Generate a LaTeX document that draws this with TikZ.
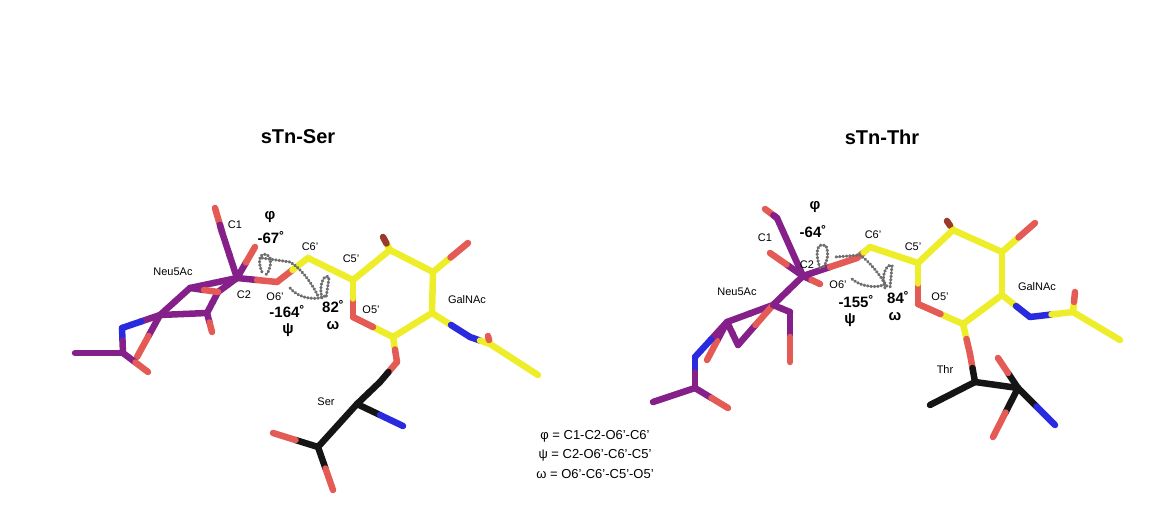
\documentclass[tikz,border=0pt]{standalone}
\usepackage{fontspec}
\setmainfont{Liberation Sans}
\usetikzlibrary{calc}
\definecolor{pur}{HTML}{85208A}
\definecolor{yel}{HTML}{EDED2A}
\definecolor{ox}{HTML}{E45A55}
\definecolor{nit}{HTML}{2A2ADF}
\definecolor{blk}{HTML}{151515}
\definecolor{gr}{HTML}{6E6E6E}
\definecolor{brn}{HTML}{9A3A2A}
\newcommand\bd[4]{\draw[stick,#3] (#1) -- ($(#1)!0.5!(#2)$); \draw[stick,#4] ($(#1)!0.5!(#2)$) -- (#2);}
\newcommand\sbd[3]{\draw[stick,#3] (#1) -- (#2);}
\begin{document}
\begin{tikzpicture}[x=1pt,y=-1pt,
 stick/.style={line width=6.5pt,line cap=round,line join=round},
 arc/.style={gr,line width=3pt,dash pattern=on 0.8pt off 2.6pt,line cap=round},
 lab/.style={font=\fontsize{11}{13}\selectfont,inner sep=0pt},
 val/.style={font=\fontsize{15}{17}\selectfont\bfseries,inner sep=0pt},
 ttl/.style={font=\fontsize{20}{23}\selectfont\bfseries,inner sep=0pt},
 eq/.style={font=\fontsize{13}{15}\selectfont,inner sep=0pt}]
\useasboundingbox (0,0) rectangle (1176,521);
% ===== Left: sTn-Ser =====
\coordinate (a5) at (353,280); \coordinate (a4) at (390,250); \coordinate (a4m) at (383,237);
\coordinate (a3) at (433,272); \coordinate (a3o) at (468,243); \coordinate (a2) at (432,313);
\coordinate (aN) at (470,337); \coordinate (aC) at (490,344); \coordinate (aCm) at (538,375); \coordinate (aCo) at (488,336);
\coordinate (a1) at (393,337); \coordinate (aO5) at (353,317); \coordinate (aO1) at (397,362);
\coordinate (sB) at (380,382); \coordinate (sA) at (357,404); \coordinate (sN) at (403,426);
\coordinate (sC) at (318,447); \coordinate (sO1) at (273,433); \coordinate (sO2) at (333,490);
\coordinate (a6) at (308,258); \coordinate (aO6) at (277,282);
\coordinate (n2) at (237,278); \coordinate (n1) at (222,232); \coordinate (n1o) at (215,208); \coordinate (n2o) at (255,247);
\coordinate (n3) at (190,288); \coordinate (n4) at (160,315); \coordinate (n5) at (207,313); \coordinate (n6) at (218,292);
\coordinate (nN) at (122,328); \coordinate (nC) at (123,353); \coordinate (nM) at (75,353); \coordinate (nO) at (148,372);
\coordinate (n4o) at (137,357); \coordinate (n5o) at (212,332);
% Neu5Ac
\sbd{n1}{n1o}{ox} \draw[stick,pur] (n1) -- ($(n1)!0.3!(n1o)$);
\bd{n2}{n1}{pur}{pur}
\bd{n2}{n2o}{pur}{ox}
\bd{n3}{n4}{pur}{pur}
\bd{n4}{n5}{pur}{pur}
\bd{n5}{n6}{pur}{pur}
\bd{n6}{n2}{pur}{pur}
\bd{n3}{n2}{pur}{pur}
\bd{n3}{n6}{pur}{ox}
\bd{n4}{n4o}{pur}{ox}
\bd{n5}{n5o}{pur}{ox}
\bd{n4}{nN}{pur}{nit}
\bd{nN}{nC}{nit}{pur}
\sbd{nC}{nM}{pur}
\bd{nC}{nO}{pur}{ox}
\bd{n2}{aO6}{pur}{ox}
% GalNAc
\bd{aO6}{a6}{ox}{yel}
\bd{a6}{a5}{yel}{yel}
\bd{a5}{a4}{yel}{yel}
\bd{a4}{a4m}{yel}{brn}
\bd{a4}{a3}{yel}{yel}
\bd{a3}{a3o}{yel}{ox}
\bd{a3}{a2}{yel}{yel}
\bd{a2}{a1}{yel}{yel}
\bd{a1}{aO5}{yel}{ox}
\bd{aO5}{a5}{ox}{yel}
\bd{a2}{aN}{yel}{nit}
\bd{aN}{aC}{nit}{yel}
\sbd{aC}{aCm}{yel}
\bd{aC}{aCo}{yel}{ox}
\bd{a1}{aO1}{yel}{ox}
% Ser
\bd{aO1}{sB}{ox}{blk}
\bd{sB}{sA}{blk}{blk}
\bd{sA}{sN}{blk}{nit}
\bd{sA}{sC}{blk}{blk}
\bd{sC}{sO1}{blk}{ox}
\bd{sC}{sO2}{blk}{ox}
% arcs
\draw[arc] (262,272) .. controls (255,255) and (265,250) .. (270,258) .. controls (272,265) and (268,275) .. (264,276);
\draw[arc] (262,258) -- (290,262) .. controls (300,268) and (310,280) .. (318,296);
\draw[arc] (290,288) .. controls (300,300) and (318,300) .. (325,296);
\draw[arc] (322,298) .. controls (318,285) and (325,272) .. (329,278) -- (326,298);
\node[lab] (aL1) at (235,225) {C1};
\node[val] (aPhi) at (270,217) {φ};
\node[val] (aV1) at (271,238) {-67˚};
\node[lab] (aL6) at (310,247) {C6’};
\node[lab] (aL5) at (351,259) {C5’};
\node[lab] (aNeu) at (173,272) {Neu5Ac};
\node[lab] (aL2) at (244,295) {C2};
\node[lab] (aLO6) at (275,297) {O6’};
\node[val] (aV2) at (287,312) {-164˚};
\node[val] (aPsi) at (288,330) {ψ};
\node[val] (aV3) at (333,307) {82˚};
\node[val] (aOm) at (333,326) {ω};
\node[lab] (aLO5) at (371,310) {O5’};
\node[lab] (aGal) at (467,300) {GalNAc};
\node[lab] (aSer) at (326,402) {Ser};
\node[ttl] (t1) at (298,137) {sTn-Ser};
% ===== Right: sTn-Thr =====
\coordinate (b5) at (918,263); \coordinate (b6) at (870,247); \coordinate (bO6) at (857,258);
\coordinate (m2) at (803,276); \coordinate (b4) at (953,230); \coordinate (b4m) at (947,221);
\coordinate (b3) at (1002,252); \coordinate (b3o) at (1035,223); \coordinate (b2) at (1002,295);
\coordinate (bN) at (1030,317); \coordinate (bC) at (1073,312); \coordinate (bCo) at (1075,292); \coordinate (bCm) at (1120,340);
\coordinate (b1) at (963,324); \coordinate (bO5) at (918,304); \coordinate (bO1) at (970,354);
\coordinate (tB) at (975,382); \coordinate (tM) at (930,405); \coordinate (tA) at (1018,388); \coordinate (tN) at (1055,425);
\coordinate (tO1) at (998,358); \coordinate (tO2) at (993,437);
\coordinate (m1) at (777,218); \coordinate (m1o) at (765,209); \coordinate (m2o) at (820,284); \coordinate (mU) at (770,253);
\coordinate (m3) at (773,305); \coordinate (m4) at (727,322); \coordinate (m5) at (738,345); \coordinate (m6) at (790,312);
\coordinate (mN) at (695,357); \coordinate (mC) at (695,388); \coordinate (mM) at (653,402); \coordinate (mO) at (728,408);
\coordinate (m4o) at (707,360); \coordinate (m6o) at (790,362);
% Neu5Ac
\sbd{m1}{m1o}{ox} \draw[stick,pur] (m1) -- ($(m1)!0.3!(m1o)$);
\bd{m2}{m1}{pur}{pur}
\bd{m2}{mU}{pur}{ox}
\bd{m2}{m2o}{pur}{ox}
\bd{m2}{m3}{pur}{pur}
\bd{m3}{m4}{pur}{pur}
\bd{m4}{m5}{pur}{pur}
\bd{m5}{m3}{pur}{ox}
\bd{m3}{m6}{pur}{pur}
\bd{m6}{m6o}{pur}{ox}
\bd{m4}{m4o}{pur}{ox}
\bd{m4}{mN}{pur}{nit}
\bd{mN}{mC}{nit}{pur}
\sbd{mC}{mM}{pur}
\bd{mC}{mO}{pur}{ox}
\bd{m2}{bO6}{pur}{ox}
% GalNAc
\bd{bO6}{b6}{ox}{yel}
\bd{b6}{b5}{yel}{yel}
\bd{b5}{b4}{yel}{yel}
\bd{b4}{b4m}{yel}{brn}
\bd{b4}{b3}{yel}{yel}
\bd{b3}{b3o}{yel}{ox}
\bd{b3}{b2}{yel}{yel}
\bd{b2}{b1}{yel}{yel}
\bd{b1}{bO5}{yel}{ox}
\bd{bO5}{b5}{ox}{yel}
\bd{b2}{bN}{yel}{nit}
\bd{bN}{bC}{nit}{yel}
\sbd{bC}{bCm}{yel}
\bd{bC}{bCo}{yel}{ox}
\bd{b1}{bO1}{yel}{ox}
% Thr
\bd{bO1}{tB}{ox}{blk}
\sbd{tB}{tM}{blk}
\bd{tB}{tA}{blk}{blk}
\bd{tA}{tN}{blk}{nit}
\bd{tA}{tO1}{blk}{ox}
\bd{tA}{tO2}{blk}{ox}
% arcs
\draw[arc] (820,268) .. controls (814,250) and (818,242) .. (826,246) .. controls (830,255) and (826,265) .. (822,268);
\draw[arc] (836,257) -- (860,255) .. controls (870,262) and (880,275) .. (888,288);
\draw[arc] (852,279) .. controls (862,288) and (880,288) .. (885,284);
\draw[arc] (885,288) .. controls (880,275) and (888,262) .. (892,266) -- (890,288);
\node[val] (bPhi) at (815,207) {φ};
\node[val] (bV1) at (813,232) {-64˚};
\node[lab] (bL1) at (765,238) {C1};
\node[lab] (bL2) at (807,265) {C2};
\node[lab] (bL6) at (873,235) {C6’};
\node[lab] (bL5) at (913,247) {C5’};
\node[lab] (bNeu) at (737,292) {Neu5Ac};
\node[lab] (bLO6) at (838,285) {O6’};
\node[val] (bV2) at (856,302) {-155˚};
\node[val] (bPsi) at (850,320) {ψ};
\node[val] (bV3) at (898,298) {84˚};
\node[val] (bOm) at (895,317) {ω};
\node[lab] (bLO5) at (940,297) {O5’};
\node[lab] (bGal) at (1037,287) {GalNAc};
\node[lab] (bThr) at (945,370) {Thr};
\node[ttl] (t2) at (882,137) {sTn-Thr};
% equations
\node[eq] (e1) at (595,436) {φ = C1-C2-O6’-C6’};
\node[eq] (e2) at (595,455) {ψ = C2-O6’-C6’-C5’};
\node[eq] (e3) at (595,474) {ω = O6’-C6’-C5’-O5’};
\end{tikzpicture}
\end{document}
